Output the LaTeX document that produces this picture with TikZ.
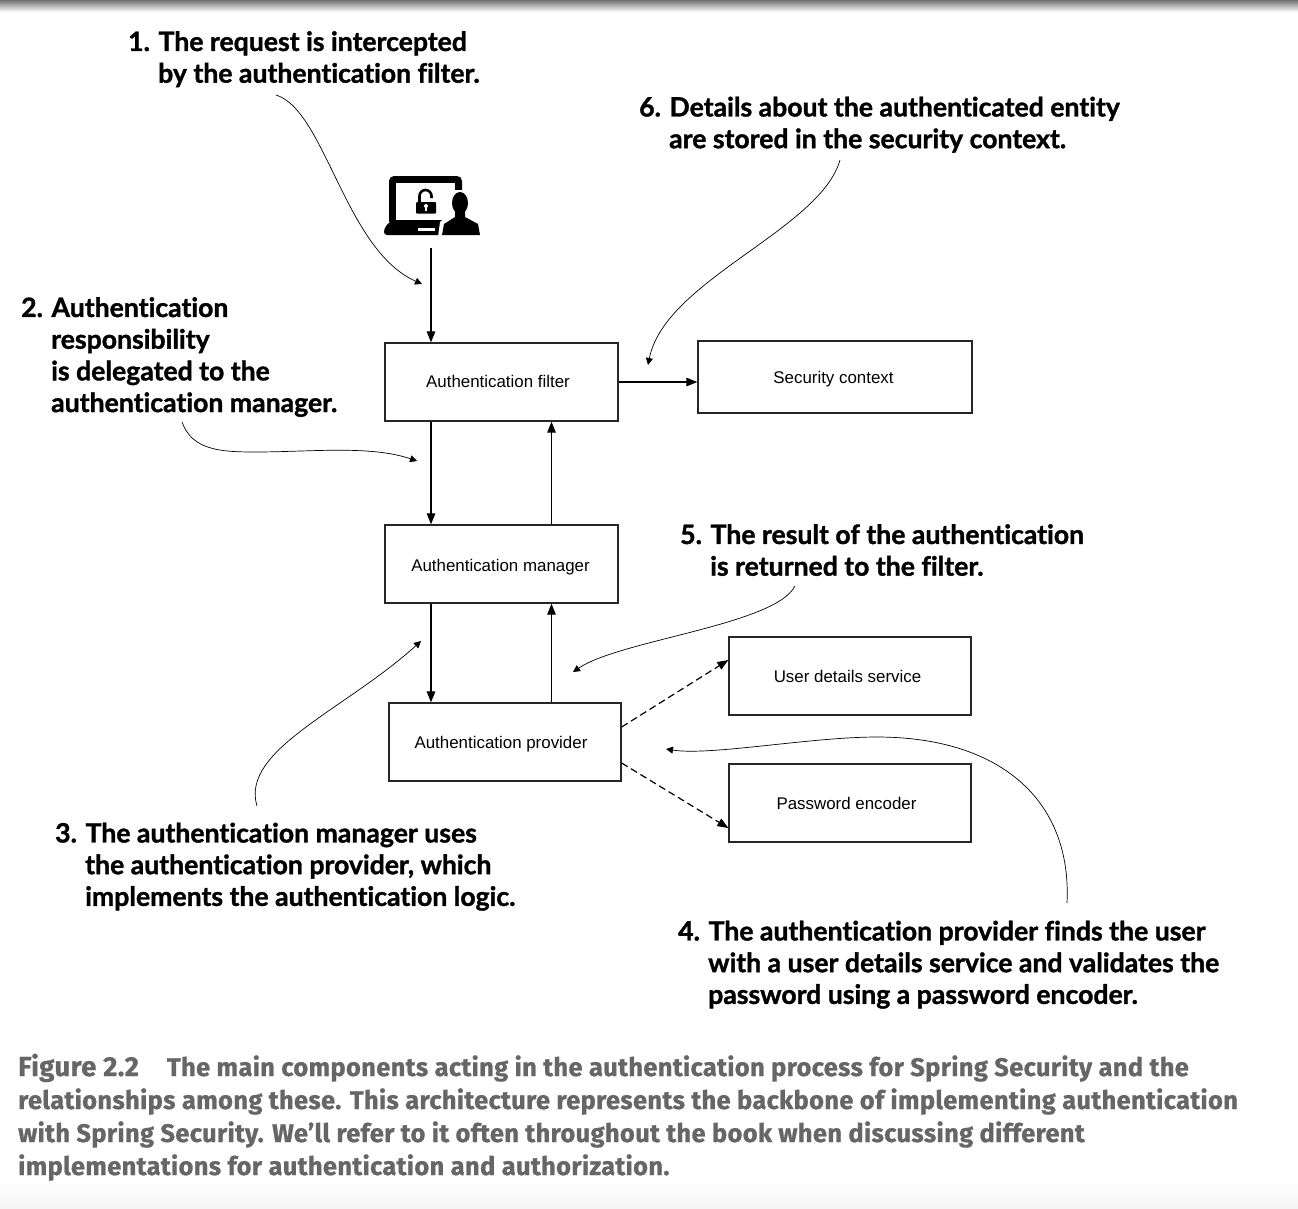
\documentclass[tikz,border=0pt]{standalone}
\usepackage{fontspec}
\setmainfont{Liberation Sans}
\newfontfamily\callfont[Ligatures=NoCommon,BoldFeatures={FakeBold=1.3}]{Lato}
\newfontfamily\capfont[Ligatures=NoCommon,LetterSpace=1.3,BoldFeatures={FakeBold=0.9}]{Fira Sans}
\usetikzlibrary{positioning,arrows.meta,calc}
\definecolor{capgray}{gray}{0.40}
\tikzset{
  krabice/.style={draw=black!85,line width=1.25pt,inner sep=0pt,text depth=0pt,font=\fontsize{16.9}{20}\selectfont},
  popis/.style={anchor=north west,inner sep=0pt,align=left,font=\callfont\bfseries\fontsize{26.6}{31.7}\selectfont},
  titulek/.style={anchor=base west,inner sep=0pt,text=capgray,font=\capfont\bfseries\fontsize{25.5}{30}\selectfont},
  sip/.style={-{Triangle[length=11pt,width=8.5pt]},line width=1.1pt},
  carka/.style={-{Triangle[length=11pt,width=8.5pt]},line width=1.2pt,dash pattern=on 7pt off 4pt},
  krivka/.style={-{Triangle[length=7pt,width=7pt]},line width=0.7pt},
}
\begin{document}
\begin{tikzpicture}[x=1pt,y=-1pt]
  \useasboundingbox (0,0) rectangle (1298,1208);
  \shade[top color=black!55,bottom color=white] (0,0) rectangle (1298,12);
  \shade[top color=white,bottom color=black!4] (0,1180) rectangle (1298,1208);
  % laptop and user
  \fill[rounded corners=5pt] (389,176) rectangle (462,226);
  \fill[white] (396,183) rectangle (455,220);
  \fill[rounded corners=3pt] (384,235) -- (384,229) -- (389,222) -- (446,222) -- (446,235) -- cycle;
  \fill[white] (418,228) rectangle (435,230.5);
  \fill[rounded corners=1pt] (416,202) rectangle (436,213.5);
  \draw[line width=2.6pt] (419.5,202) -- (419.5,196) arc[start angle=180,end angle=0,x radius=6,y radius=-6] -- (431.5,198);
  \fill[white] (426,206) circle (2pt);
  \fill[white] (425,206) rectangle (427,210.5);
  \fill[white] (438,237) -- (440,222) -- (449,215) -- (449,190) -- (472,190) -- (472,215) -- (484,224) -- (484,237) -- cycle;
  \fill (460,203) ellipse (8pt and 11pt);
  \fill (455,210) -- (465,210) -- (465,217) -- (478,224) -- (480,235) -- (442,235) -- (444,224) -- (455,217) -- cycle;
  % boxes
  \node[krabice,minimum width=233pt,minimum height=78pt] (filter) at (501.5,382) {\raisebox{1pt}{\hspace*{-7pt}Authentication filter}};
  \node[krabice,minimum width=233pt,minimum height=78pt] (manager) at (501.5,564) {\raisebox{-3pt}{\hspace*{-2pt}Authentication manager}};
  \node[krabice,minimum width=232pt,minimum height=78pt] (provider) at (505,742) {\raisebox{-1pt}{\hspace*{-8pt}Authentication provider}};
  \node[krabice,minimum width=274pt,minimum height=72pt] (context) at (835,377) {\hspace*{-3pt}Security context};
  \node[krabice,minimum width=242pt,minimum height=78pt] (details) at (850,676) {\raisebox{-1pt}{\hspace*{-5pt}User details service}};
  \node[krabice,minimum width=242pt,minimum height=78pt] (encoder) at (850,803) {\raisebox{-1pt}{\hspace*{-7pt}Password encoder}};
  \coordinate (icon) at (431,248);
  \coordinate (down) at (431,0);
  \coordinate (up) at (551.5,0);
  % main flow
  \draw[sip] (icon) -- (filter.north -| icon);
  \draw[sip] (filter.south -| down) -- (manager.north -| down);
  \draw[sip] (manager.north -| up) -- (filter.south -| up);
  \draw[sip] (manager.south -| down) -- (provider.north -| down);
  \draw[sip] (provider.north -| up) -- (manager.south -| up);
  \draw[sip] (filter.east) -- (filter.east -| context.west);
  \draw[carka] ([yshift=15pt]provider.east) -- ([yshift=16pt]details.west);
  \draw[carka] ([yshift=-21pt]provider.east) -- ([yshift=-25pt]encoder.west);
  % callouts
  \node[popis] (t1) at (128,31) {1. The request is intercepted\\\hspace*{30pt}by the authentication filter.};
  \node[popis] (t2) at (21,297) {2. Authentication\\\hspace*{30pt}responsibility\\\hspace*{30pt}is delegated to the\\\hspace*{30pt}authentication manager.};
  \node[popis] (t3) at (55,822.5) {3. The authentication manager uses\\\hspace*{30pt}the authentication provider, which\\\hspace*{30pt}implements the authentication logic.};
  \node[popis] (t4) at (678,920.5) {4. The authentication provider finds the user\\\hspace*{30pt}with a user details service and validates the\\\hspace*{30pt}password using a password encoder.};
  \node[popis] (t5) at (680,524) {5. The result of the authentication\\\hspace*{30pt}is returned to the filter.};
  \node[popis] (t6) at (639,96.5) {6. Details about the authenticated entity\\\hspace*{30pt}are stored in the security context.};
  \coordinate (s1) at (276,95); \coordinate (e1) at (422,284);
  \coordinate (s2) at (182,422); \coordinate (m2) at (255,452); \coordinate (e2) at (417,461);
  \coordinate (s3) at (257,806); \coordinate (e3) at (421,641);
  \coordinate (s4) at (1067,903); \coordinate (m4) at (877,737); \coordinate (e4) at (666,749);
  \coordinate (s5) at (795,586); \coordinate (e5) at (573,672);
  \coordinate (s6) at (840,160); \coordinate (e6) at (648,365);
  \draw[krivka] (s1) .. controls (325,110) and (345,250) .. (e1);
  \draw[krivka] (s2) .. controls (192,450) and (220,452) .. (m2) .. controls (310,452) and (370,445) .. (e2);
  \draw[krivka] (s3) .. controls (240,750) and (345,710) .. (e3);
  \draw[krivka] (s4) .. controls (1072,800) and (1000,737) .. (m4) .. controls (810,737) and (710,756) .. (e4);
  \draw[krivka] (s5) .. controls (775,625) and (620,640) .. (e5);
  \draw[krivka] (s6) .. controls (820,230) and (665,280) .. (e6);
  % caption
  \node[titulek] (c1) at (18,1076) {{\fontsize{27.5}{30}\selectfont Figure 2.2}\hspace{28pt}The main components acting in the authentication process for Spring Security and the};
  \node[titulek] (c2) at (18,1109) {relationships among these. This architecture represents the backbone of implementing authentication};
  \node[titulek] (c3) at (18,1142) {with Spring Security. We’ll refer to it often throughout the book when discussing different};
  \node[titulek] (c4) at (18,1175) {implementations for authentication and authorization.};
\end{tikzpicture}
\end{document}
